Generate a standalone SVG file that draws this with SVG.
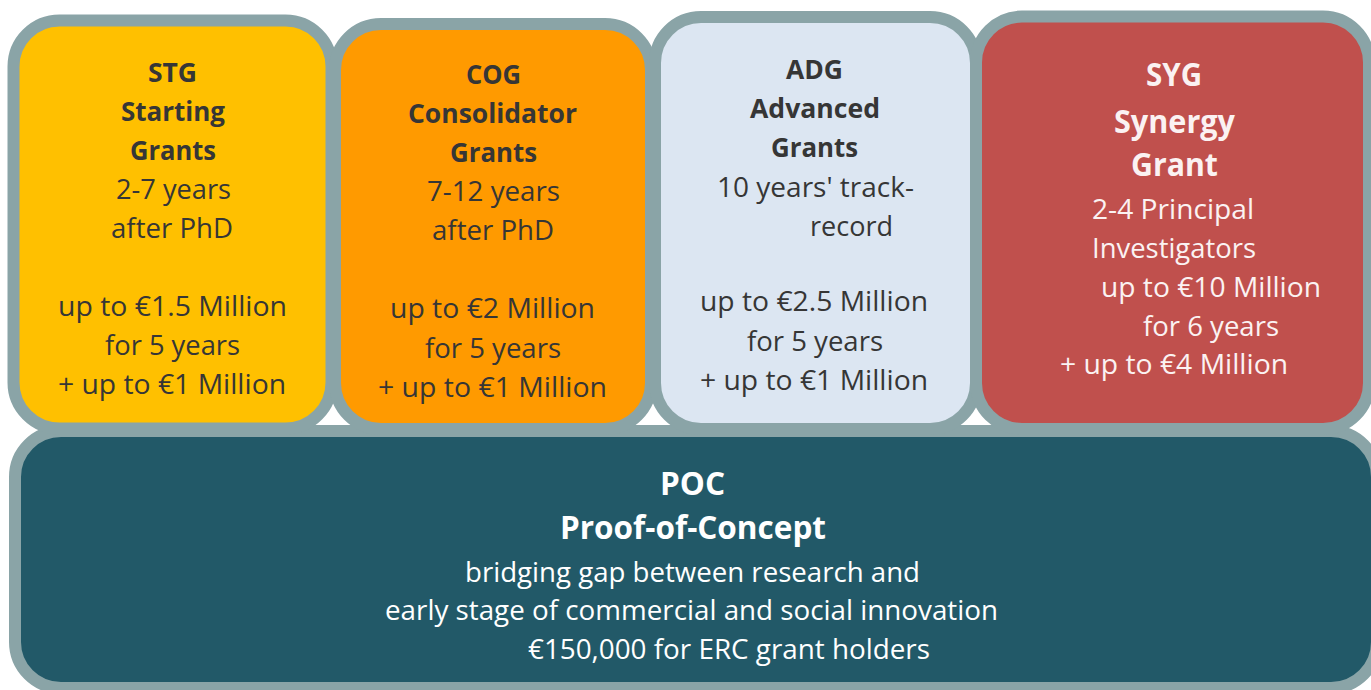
<svg xmlns="http://www.w3.org/2000/svg" width="1371" height="690" viewBox="0 0 1371 690">
<style>
.box{stroke:#8AA4A7;stroke-width:12}
text{font-family:"Open Sans","Noto Sans",sans-serif;text-anchor:middle;font-size:27px}
.d{fill:#363636}
.w{fill:#FFFFFF}
.s{fill:#FBF2F2}
.b{font-weight:bold;font-size:26px}
.t{font-weight:bold;font-size:33px}
</style>
<rect width="1371" height="690" fill="#FFFFFF"/>
<g id="poc">
<rect class="box" x="15" y="431" width="1362" height="257" rx="46" fill="#225968"/>
<text class="w t" x="692.5" y="495" textLength="65" lengthAdjust="spacingAndGlyphs">POC</text>
<text class="w t" x="693" y="539" textLength="266" lengthAdjust="spacingAndGlyphs">Proof-of-Concept</text>
<text class="w" x="692.5" y="582" textLength="455" lengthAdjust="spacingAndGlyphs">bridging gap between research and</text>
<text class="w" x="691.5" y="620" textLength="613" lengthAdjust="spacingAndGlyphs">early stage of commercial and social innovation</text>
<text class="w" x="729" y="659" textLength="402" lengthAdjust="spacingAndGlyphs">€150,000 for ERC grant holders</text>
</g>
<g id="stg">
<rect class="box" x="13.5" y="20.5" width="318" height="408" rx="46" fill="#FFC000"/>
<text class="d b" x="172.5" y="82" textLength="49" lengthAdjust="spacingAndGlyphs">STG</text>
<text class="d b" x="173" y="121" textLength="104" lengthAdjust="spacingAndGlyphs">Starting</text>
<text class="d b" x="173" y="160" textLength="86" lengthAdjust="spacingAndGlyphs">Grants</text>
<text class="d" x="173.5" y="199" textLength="115" lengthAdjust="spacingAndGlyphs">2-7 years</text>
<text class="d" x="172" y="238" textLength="122" lengthAdjust="spacingAndGlyphs">after PhD</text>
<text class="d" x="172.5" y="316" textLength="229" lengthAdjust="spacingAndGlyphs">up to €1.5 Million</text>
<text class="d" x="172.5" y="355" textLength="135" lengthAdjust="spacingAndGlyphs">for 5 years</text>
<text class="d" x="172" y="394" textLength="228" lengthAdjust="spacingAndGlyphs">+ up to €1 Million</text>
</g>
<g id="cog">
<rect class="box" x="335" y="24" width="316" height="405" rx="46" fill="#FF9A00"/>
<text class="d b" x="493.5" y="84" textLength="55" lengthAdjust="spacingAndGlyphs">COG</text>
<text class="d b" x="492.5" y="123" textLength="169" lengthAdjust="spacingAndGlyphs">Consolidator</text>
<text class="d b" x="493.5" y="162" textLength="87" lengthAdjust="spacingAndGlyphs">Grants</text>
<text class="d" x="493.5" y="201" textLength="133" lengthAdjust="spacingAndGlyphs">7-12 years</text>
<text class="d" x="493" y="240" textLength="122" lengthAdjust="spacingAndGlyphs">after PhD</text>
<text class="d" x="492.5" y="318" textLength="205" lengthAdjust="spacingAndGlyphs">up to €2 Million</text>
<text class="d" x="493" y="358" textLength="136" lengthAdjust="spacingAndGlyphs">for 5 years</text>
<text class="d" x="492.5" y="397" textLength="229" lengthAdjust="spacingAndGlyphs">+ up to €1 Million</text>
</g>
<g id="adg">
<rect class="box" x="655" y="17" width="321" height="412" rx="46" fill="#DCE6F2"/>
<text class="d b" x="814.5" y="79" textLength="57" lengthAdjust="spacingAndGlyphs">ADG</text>
<text class="d b" x="815" y="118" textLength="130" lengthAdjust="spacingAndGlyphs">Advanced</text>
<text class="d b" x="814.5" y="157" textLength="87" lengthAdjust="spacingAndGlyphs">Grants</text>
<text class="d" x="815.5" y="197" textLength="197" lengthAdjust="spacingAndGlyphs">10 years' track-</text>
<text class="d" x="851.5" y="236" textLength="83" lengthAdjust="spacingAndGlyphs">record</text>
<text class="d" x="814" y="311" textLength="228" lengthAdjust="spacingAndGlyphs">up to €2.5 Million</text>
<text class="d" x="815" y="351" textLength="136" lengthAdjust="spacingAndGlyphs">for 5 years</text>
<text class="d" x="814" y="390" textLength="228" lengthAdjust="spacingAndGlyphs">+ up to €1 Million</text>
</g>
<g id="syg">
<rect class="box" x="976" y="16.5" width="393" height="412.5" rx="46" fill="#C0504D"/>
<text class="s t" x="1174" y="86" textLength="56" lengthAdjust="spacingAndGlyphs">SYG</text>
<text class="s t" x="1174.5" y="133" textLength="121" lengthAdjust="spacingAndGlyphs">Synergy</text>
<text class="s t" x="1174.5" y="176" textLength="87" lengthAdjust="spacingAndGlyphs">Grant</text>
<text class="s" x="1173" y="219" textLength="162" lengthAdjust="spacingAndGlyphs">2-4 Principal</text>
<text class="s" x="1174" y="258" textLength="164" lengthAdjust="spacingAndGlyphs">Investigators</text>
<text class="s" x="1211" y="297" textLength="220" lengthAdjust="spacingAndGlyphs">up to €10 Million</text>
<text class="s" x="1211" y="336" textLength="136" lengthAdjust="spacingAndGlyphs">for 6 years</text>
<text class="s" x="1174" y="374" textLength="228" lengthAdjust="spacingAndGlyphs">+ up to €4 Million</text>
</g>
<g id="connectors"/>
</svg>
